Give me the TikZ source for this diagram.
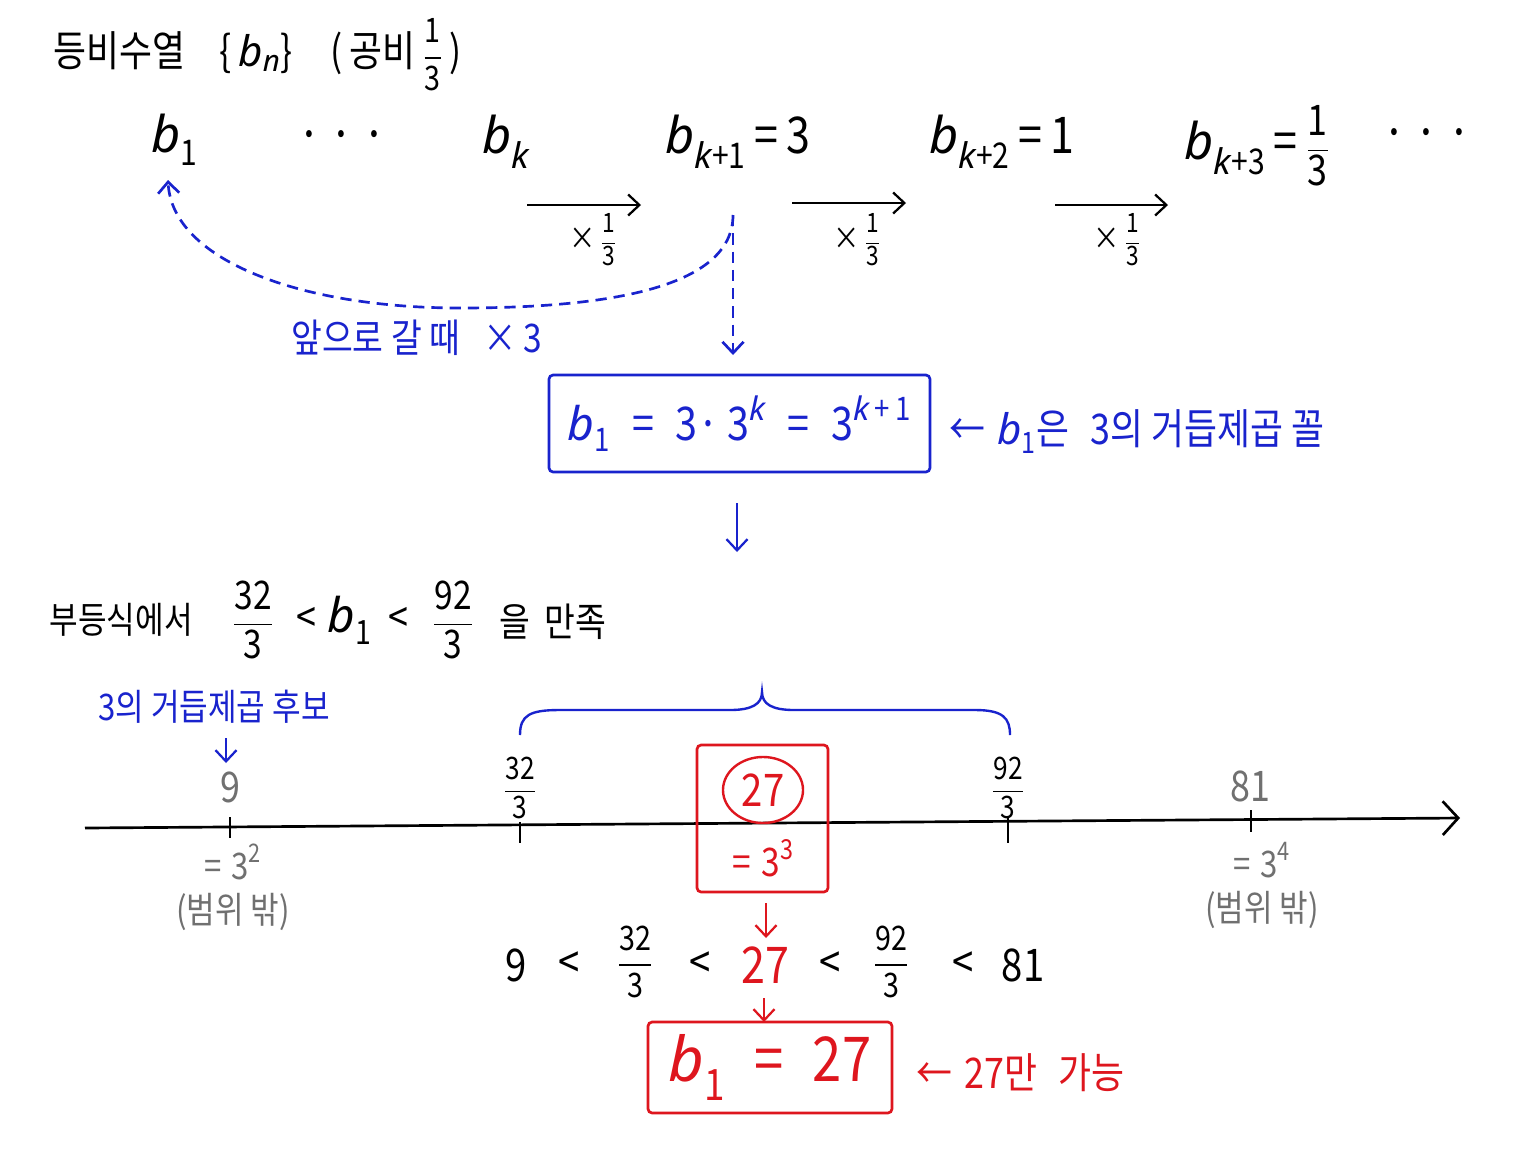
\documentclass[tikz,border=0pt]{standalone}
\usepackage{fontspec}
\usepackage{amsmath}
\setmainfont{Noto Sans CJK KR}[FakeStretch=0.85]
\newfontfamily\itf{Noto Sans}
\usetikzlibrary{arrows.meta,shapes.geometric}
\definecolor{myblue}{RGB}{25,35,205}
\definecolor{myred}{RGB}{222,22,30}
\definecolor{mygrey}{RGB}{112,112,112}
\newcommand\fs[1]{\fontsize{#1}{#1}\selectfont}
\newcommand\ks{{\itf\itshape k}}
\newcommand\bv[1]{\ensuremath{\text{\itf\itshape b}_{\text{#1}}}}
\newcommand\pw[2]{\ensuremath{\text{#1}^{\text{#2}}}}
\newcommand\fr[2]{\ensuremath{\dfrac{\text{#1}}{\text{#2}}}}
\tikzset{
  tipa/.tip={Straight Barb[length=8pt,width=15pt]},
  blkarrow/.style={draw=black,line width=1.6pt,-tipa},
  bluearrow/.style={draw=myblue,line width=1.6pt,-tipa},
  redarrow/.style={draw=myred,line width=1.6pt,-tipa},
  bdash/.style={draw=myblue,line width=1.9pt,dash pattern=on 8pt off 5pt,-tipa},
  bluebox/.style={draw=myblue,line width=1.9pt,rounded corners=3pt},
  redbox/.style={draw=myred,line width=1.9pt,rounded corners=3pt},
  tick/.style={draw=black,line width=1.6pt},
  lbl/.style={inner sep=1pt},
}
\begin{document}
\begin{tikzpicture}[x=0.025cm,y=-0.025cm]
\useasboundingbox (0,0) rectangle (1536,1152);
\fill[white] (0,0) rectangle (1536,1152);

% title
\node[lbl,anchor=west,font=\fs{30}] (title) at (52,55)
  {등비수열\hspace{0.8em}\{\,\bv{\itf\itshape n}\}\hspace{0.9em}(\,공비\,{\fs{24}\fr{1}{3}}\,)};

% sequence row
\begin{scope}[font=\fs{36}]
\node[lbl] (b1) at (175,140) {\bv{1}};
\node[lbl] (dots1) at (342,142) {·\,·\,·};
\node[lbl] (bk) at (506,142) {\bv{\ks}};
\node[lbl] (bk1) at (738,142) {\bv{\ks+1}\,=\,3};
\node[lbl] (bk2) at (1002,142) {\bv{\ks+2}\,=\,1};
\node[lbl] (bk3) at (1257,146) {\bv{\ks+3}\,=\,{\fs{30}\fr{1}{3}}};
\node[lbl] (dots2) at (1427,140) {·\,·\,·};
\end{scope}

% x 1/3 arrows
\coordinate (a1s) at (527,205); \coordinate (a1e) at (641,205);
\coordinate (a2s) at (792,203); \coordinate (a2e) at (906,203);
\coordinate (a3s) at (1055,205); \coordinate (a3e) at (1168,205);
\draw[blkarrow] (a1s) -- (a1e);
\draw[blkarrow] (a2s) -- (a2e);
\draw[blkarrow] (a3s) -- (a3e);
\node[lbl,font=\fs{22}] (m1) at (593,240) {×\,{\fs{19}\fr{1}{3}}};
\node[lbl,font=\fs{22}] (m2) at (857,240) {×\,{\fs{19}\fr{1}{3}}};
\node[lbl,font=\fs{22}] (m3) at (1117,240) {×\,{\fs{19}\fr{1}{3}}};

% dashed back arrows
\coordinate (dtop) at (733,215);
\coordinate (dbot) at (733,355);
\coordinate (dend) at (168,180);
\draw[bdash] (dtop) -- (dbot);
\draw[bdash] (dtop) .. controls (733,290) and (600,308) .. (460,308)
                    .. controls (300,308) and (172,260) .. (dend);
\node[lbl,font=\fs{28},text=myblue] (back) at (417,338) {앞으로 갈 때\hspace{0.6em}×\,3};

% blue box
\node[bluebox,minimum width=9.525cm,minimum height=2.425cm,font=\fs{33},text=myblue] (box1) at (739.5,423.5)
  {\bv{1}\; = \;3·\,\pw{3}{\ks} \;=\; \pw{3}{\ks\,+\,1}};
\node[lbl,font=\fs{30},text=myblue,anchor=west] (note1) at (948,432) {←\;\bv{1}은\hspace{0.5em}3의 거듭제곱 꼴};

\coordinate (ba1) at (737,503); \coordinate (ba2) at (737,552);
\draw[bluearrow] (ba1) -- (ba2);

% inequality statement
\node[lbl,font=\fs{26},anchor=west] (ineqlab) at (48,620) {부등식에서};
\node[lbl,font=\fs{28}] (q32) at (253,620) {\fr{32}{3}};
\node[lbl,font=\fs{30}] (q1) at (306,620) {<};
\node[lbl,font=\fs{34}] (qb) at (350,620) {\bv{1}};
\node[lbl,font=\fs{30}] (q2) at (398,620) {<};
\node[lbl,font=\fs{28}] (q92) at (453,620) {\fr{92}{3}};
\node[lbl,font=\fs{28}] (qe) at (515,622) {을};
\node[lbl,font=\fs{28}] (qm) at (575,622) {만족};

% candidates
\node[lbl,font=\fs{26},text=myblue] (cand) at (214,707) {3의 거듭제곱 후보};
\coordinate (ca1) at (226,738); \coordinate (ca2) at (226,763);
\draw[bluearrow] (ca1) -- (ca2);

% brace
\draw[myblue,line width=1.7pt] (520,735) .. controls (520,715) and (530,710) .. (560,710) -- (730,710)
   .. controls (752,710) and (762,704) .. (762,692)
   .. controls (762,704) and (772,710) .. (794,710) -- (975,710)
   .. controls (1003,710) and (1010,718) .. (1010,735);

% number line
\coordinate (nlS) at (85,828); \coordinate (nlE) at (1460,818);
\draw[draw=black,line width=1.9pt,-{Straight Barb[length=11pt,width=24pt]}] (nlS) -- (nlE);
\draw[tick] (230,817) -- (230,838);
\draw[tick] (520,822) -- (520,843);
\draw[tick] (1008,818) -- (1008,843);
\draw[tick] (1251,810) -- (1251,832);

\node[lbl,font=\fs{30},text=mygrey] (n9) at (230,787) {9};
\node[lbl,font=\fs{22}] (f32) at (520,788) {\fr{32}{3}};
\node[lbl,font=\fs{22}] (f92) at (1008,788) {\fr{92}{3}};
\node[lbl,font=\fs{30},text=mygrey] (n81) at (1250,786) {81};
\node[lbl,font=\fs{26},text=mygrey] (e32) at (233,862) {=\;\pw{3}{2}};
\node[lbl,font=\fs{26},text=mygrey] (out1) at (233,912) {(범위 밖)};
\node[lbl,font=\fs{26},text=mygrey] (e34) at (1262,860) {=\;\pw{3}{4}};
\node[lbl,font=\fs{26},text=mygrey] (out2) at (1262,910) {(범위 밖)};

% red candidate box
\node[redbox,minimum width=3.275cm,minimum height=3.675cm] (rbox) at (762.5,818.5) {};
\node[ellipse,draw=myred,line width=1.7pt,minimum width=2.0cm,minimum height=1.65cm,font=\fs{32},text=myred,inner sep=0pt] (c27) at (763,790) {27};
\node[lbl,font=\fs{28},text=myred] (e33) at (763,858) {=\;\pw{3}{3}};

\coordinate (ra1) at (766,903); \coordinate (ra2) at (766,938);
\draw[redarrow] (ra1) -- (ra2);

% inequality chain
\begin{scope}[font=\fs{32}]
\node[lbl] (i9) at (516,965) {9};
\node[lbl] (l1) at (569,965) {<};
\node[lbl,font=\fs{24}] (i32) at (635,962) {\fr{32}{3}};
\node[lbl] (l2) at (700,965) {<};
\node[lbl,text=myred,font=\fs{36}] (i27) at (765,965) {27};
\node[lbl] (l3) at (830,965) {<};
\node[lbl,font=\fs{24}] (i92) at (891,962) {\fr{92}{3}};
\node[lbl] (l4) at (963,965) {<};
\node[lbl] (i81) at (1023,965) {81};
\end{scope}

\coordinate (rb1) at (764,998); \coordinate (rb2) at (764,1022);
\draw[redarrow] (rb1) -- (rb2);

\node[redbox,minimum width=6.1cm,minimum height=2.275cm,font=\fs{44},text=myred] (rbox2) at (770,1067.5)
  {\bv{1}\; = \;27};
\node[lbl,font=\fs{30},text=myred,anchor=west] (only) at (915,1073) {←\;27만\hspace{0.5em}가능};
\end{tikzpicture}
\end{document}
